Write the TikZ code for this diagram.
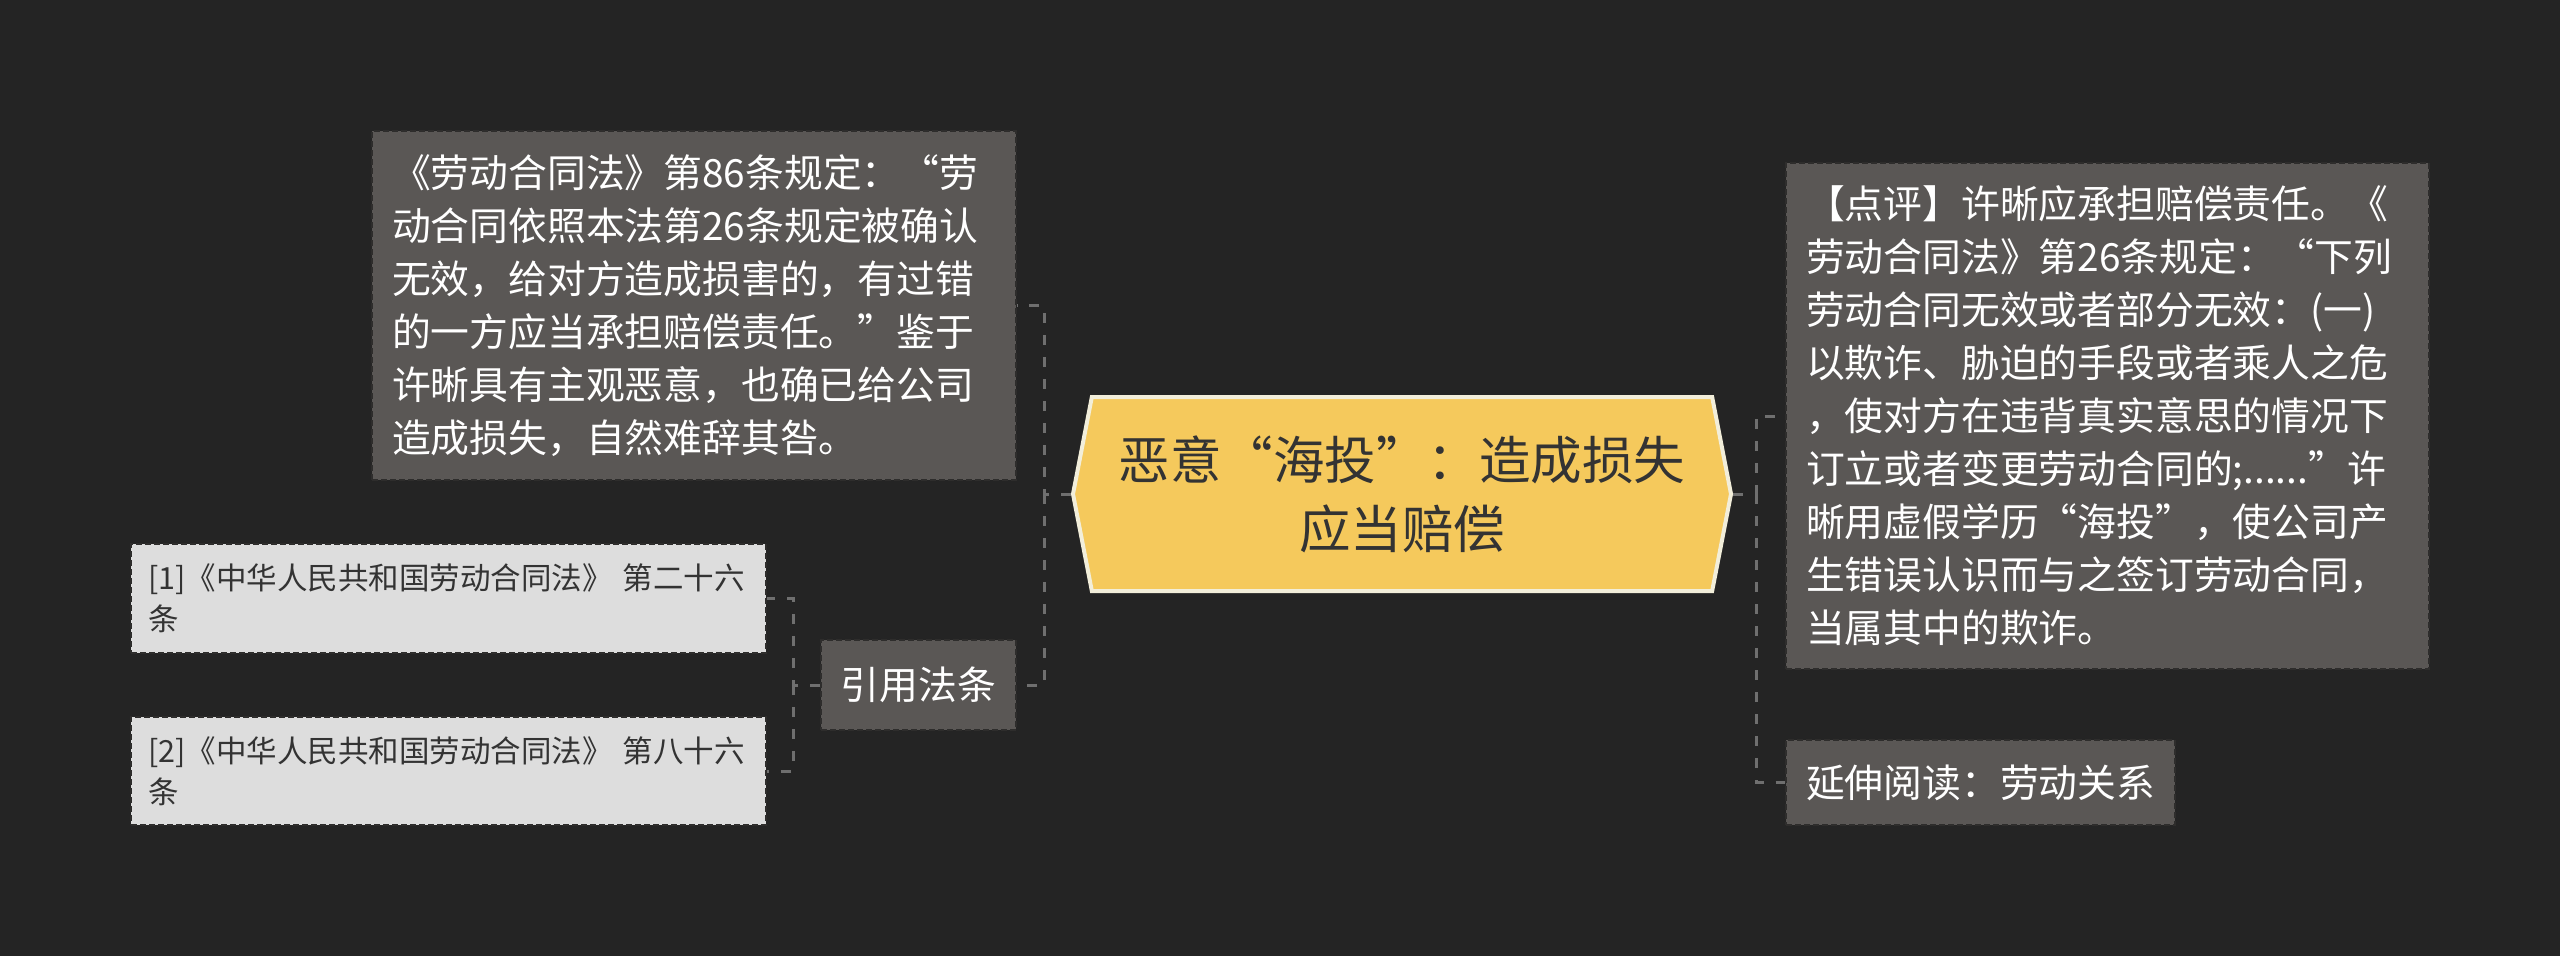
\documentclass[tikz,border=0pt]{standalone}
\usepackage{fontspec}
\newfontfamily\cjkfont{Noto Sans CJK SC}
\usepackage{tikz}
\usetikzlibrary{shapes.symbols}
\definecolor{bgdark}{HTML}{242424}
\definecolor{boxdark}{HTML}{5A5755}
\definecolor{boxedge}{HTML}{2E2D2C}
\definecolor{boxlight}{HTML}{DDDDDD}
\definecolor{hubfill}{HTML}{F5C95C}
\definecolor{hubedge}{HTML}{F2EEDA}
\definecolor{textdark}{HTML}{333333}
\definecolor{linkgray}{HTML}{6F6F6F}
\tikzset{hubnode/.style={shape=signal,signal to=west and east,signal pointer angle=158,
    fill=hubfill,draw=hubedge,line width=4pt,minimum width=658pt,minimum height=194pt,
    align=center,text=textdark,font=\cjkfont\fontsize{51.5}{69}\selectfont}}
\tikzset{notebox/.style={shape=rectangle,fill=boxdark,draw=boxedge,line width=2pt,
    dash pattern=on 6pt off 3pt,inner xsep=20pt,inner ysep=0pt,align=left,text=white,
    font=\cjkfont\fontsize{38.8}{53}\selectfont}}
\tikzset{tagbox/.style={notebox,inner xsep=0pt,align=center}}
\tikzset{refbox/.style={notebox,fill=boxlight,draw=boxedge,inner xsep=17pt,text=textdark,
    font=\cjkfont\fontsize{30.5}{41}\selectfont}}
\tikzset{linkline/.style={draw=linkgray,line width=3pt,dash pattern=on 10pt off 12pt}}

\begin{document}
\begin{tikzpicture}[x=1pt,y=-1pt]
	\fill[bgdark] (0,0) rectangle (2560,956);
	\useasboundingbox (0,0) rectangle (2560,956);
	%
	\node[hubnode] (hub) at (1402,494) {恶意“海投”：造成损失\\应当赔偿};
	\node[notebox,text width=604pt,minimum height=349pt] (law) at (694,305.5)
	{《劳动合同法》第86条规定：“劳\\动合同依照本法第26条规定被确认\\无效，给对方造成损害的，有过错\\的一方应当承担赔偿责任。”鉴于\\许晰具有主观恶意，也确已给公司\\造成损失，自然难辞其咎。};
	\node[tagbox,minimum width=195pt,minimum height=90pt] (cite) at (918.5,685) {引用法条};
	\node[refbox,text width=601pt,minimum height=109pt] (refA) at (448.5,598.5)
	{[1]《中华人民共和国劳动合同法》~第二十六\\条};
	\node[refbox,text width=601pt,minimum height=108pt] (refB) at (448.5,771)
	{[2]《中华人民共和国劳动合同法》~第八十六\\条};
	\node[notebox,text width=603pt,minimum height=506pt] (review) at (2107.5,416)
	{【点评】许晰应承担赔偿责任。《\\劳动合同法》第26条规定：“下列\\劳动合同无效或者部分无效：(一)\\以欺诈、胁迫的手段或者乘人之危\\，使对方在违背真实意思的情况下\\订立或者变更劳动合同的;......”许\\晰用虚假学历“海投”，使公司产\\生错误认识而与之签订劳动合同，\\当属其中的欺诈。};
	\node[notebox,text width=349pt,minimum height=85pt] (read) at (1980.5,782.5) {延伸阅读：劳动关系};
	%
	\coordinate (hubL) at (1044,494);
	\coordinate (hubR) at (1756,494);
	\coordinate (citeJ) at (793,685);
	\draw[linkline] (hub.west) -- (hubL) |- (law.east);
	\draw[linkline] (hubL) |- (cite.east);
	\draw[linkline] (hub.east) -- (hubR) |- (review.west);
	\draw[linkline] (hubR) |- (read.west);
	\draw[linkline] (cite.west) -- (citeJ) |- (refA.east);
	\draw[linkline] (citeJ) |- (refB.east);
\end{tikzpicture}
\end{document}
